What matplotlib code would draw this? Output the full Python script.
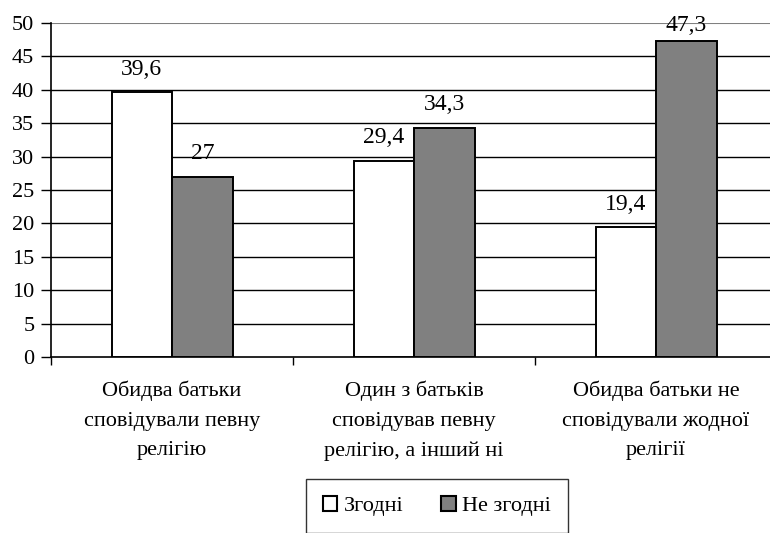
import matplotlib.pyplot as plt
import numpy as np
from matplotlib.patches import Patch
from matplotlib.transforms import blended_transform_factory

plt.rcParams['font.family'] = ['Liberation Serif', 'DejaVu Serif']
SERIF = 'Liberation Serif'

categories = ['Обидва батьки\nсповідували певну\nрелігію',
              'Один з батьків\nсповідував певну\nрелігію, а інший ні',
              'Обидва батьки не\nсповідували жодної\nрелігії']
agree = [39.6, 29.4, 19.4]
disagree = [27, 34.3, 47.3]
series_names = ['Згодні', 'Не згодні']

fig = plt.figure(figsize=(7.7, 5.33), dpi=100)
ax = fig.add_axes([51 / 770, 176 / 533, 726 / 770, 334 / 533])

x = np.arange(len(categories))
w = 0.25
b1 = ax.bar(x - w / 2, agree, w, color='white', edgecolor='black', linewidth=1.4, zorder=3)
b2 = ax.bar(x + w / 2, disagree, w, color='#808080', edgecolor='black', linewidth=1.4, zorder=3)

# підписи значень над стовпцями; біля верхньої межі підпис ближче до стовпця
for bars, vals in ((b1, agree), (b2, disagree)):
    for rect, v in zip(bars, vals):
        off = 9 if v < 45 else 3.5
        ax.annotate(f'{v:g}'.replace('.', ','),
                    (rect.get_x() + rect.get_width() / 2, v),
                    xytext=(0, off), textcoords='offset points',
                    ha='center', va='bottom', fontsize=17,
                    fontfamily=SERIF, zorder=4)

ax.set_xlim(-0.5, 2.5)
ax.set_ylim(0, 50)
ax.set_yticks(np.arange(0, 51, 5))
ax.set_yticklabels([str(v) for v in range(0, 51, 5)], fontfamily=SERIF, fontsize=16)
ax.tick_params(axis='y', length=7, width=1, pad=5)

# поділки на межах категорій, підписи по центру кожної групи
ax.set_xticks([-0.5, 0.5, 1.5, 2.5])
ax.set_xticklabels([])
ax.tick_params(axis='x', length=6, width=1)
trans = blended_transform_factory(ax.transData, ax.transAxes)
for xi, label in zip(x, categories):
    ax.text(xi, -0.071, label, transform=trans, ha='center', va='top',
            fontsize=16, fontfamily=SERIF, linespacing=1.75)

for v in range(5, 50, 5):
    ax.axhline(v, color='black', linewidth=1, zorder=1)
ax.axhline(50, color='#808080', linewidth=1.5, zorder=1)

for s in ('top', 'right'):
    ax.spines[s].set_visible(False)
ax.spines['left'].set_linewidth(1.2)
ax.spines['bottom'].set_linewidth(1.2)

handles = [Patch(facecolor='white', edgecolor='black', linewidth=1.5),
           Patch(facecolor='#808080', edgecolor='black', linewidth=1.5)]
leg = fig.legend(handles, series_names, loc='upper center',
                 bbox_to_anchor=(437 / 770, 54 / 533), ncol=2,
                 prop={'family': SERIF, 'size': 16},
                 frameon=True, fancybox=False, edgecolor='black',
                 handlelength=0.65, handleheight=0.65, handletextpad=0.3,
                 columnspacing=1.7, borderpad=0.75, borderaxespad=0)
leg.get_frame().set_linewidth(1)

fig.savefig('out.png', dpi=100)
